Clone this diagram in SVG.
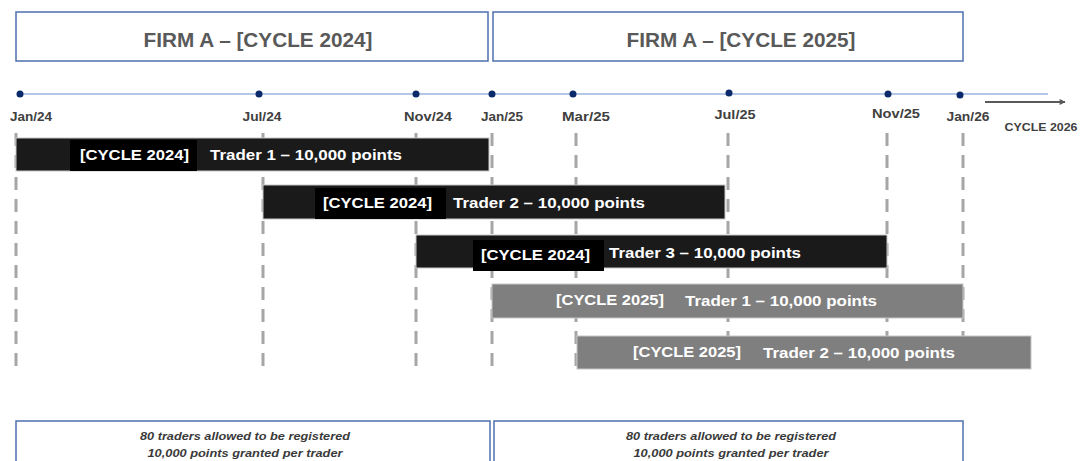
<svg xmlns="http://www.w3.org/2000/svg" width="1081" height="461" viewBox="0 0 1081 461">
<defs>
<style>
.hdr{fill:#fff;stroke:#4f6fae;stroke-width:1.5}
.ttl{font-family:"Liberation Sans",Arial,sans-serif;font-weight:bold;font-size:20px;fill:#595959;text-anchor:middle}
.dt{font-family:"Liberation Sans",Arial,sans-serif;font-weight:bold;font-size:12px;fill:#404040;text-anchor:middle}
.dot{fill:#0b2a6b}
.vl{stroke:#a6a6a6;stroke-width:3;stroke-dasharray:13 9}
.b24{fill:#1a1a1a;stroke:#c8c8c8;stroke-width:1}
.k24{fill:#000}
.b25{fill:#7f7f7f;stroke:#c8c8c8;stroke-width:1}
.bt{font-family:"Liberation Sans",Arial,sans-serif;font-weight:bold;font-size:15px;fill:#fff}
.note{font-family:"Liberation Sans",Arial,sans-serif;font-weight:bold;font-style:italic;font-size:11px;fill:#3a3a3a;text-anchor:middle}
</style>
<marker id="arr" viewBox="0 0 10 10" refX="9" refY="5" markerWidth="8" markerHeight="6" orient="auto" markerUnits="userSpaceOnUse"><path d="M0,0 L10,5 L0,10 z" fill="#595959"/></marker>
</defs>
<rect width="1081" height="461" fill="#fff"/>

<g id="header-2024"><rect class="hdr" x="16" y="12" width="472" height="49"/><text class="ttl" x="258" y="47" textLength="229" lengthAdjust="spacingAndGlyphs">FIRM A – [CYCLE 2024]</text></g>
<g id="header-2025"><rect class="hdr" x="493" y="12" width="470" height="49"/><text class="ttl" x="741" y="47" textLength="229" lengthAdjust="spacingAndGlyphs">FIRM A – [CYCLE 2025]</text></g>

<g id="connectors">
<line x1="20" y1="94" x2="1048" y2="94" stroke="#b4c7e7" stroke-width="2"/>
<line x1="985" y1="102" x2="1065" y2="102" stroke="#595959" stroke-width="2" marker-end="url(#arr)"/>
<line class="vl" x1="16" y1="133" x2="16" y2="366"/>
<line class="vl" x1="263" y1="133" x2="263" y2="366"/>
<line class="vl" x1="416" y1="133" x2="416" y2="366"/>
<line class="vl" x1="492" y1="133" x2="492" y2="366"/>
<line class="vl" x1="576" y1="133" x2="576" y2="366"/>
<line class="vl" x1="728" y1="133" x2="728" y2="366"/>
<line class="vl" x1="887" y1="133" x2="887" y2="366"/>
<line class="vl" x1="963" y1="133" x2="963" y2="366"/>
</g>

<g id="timeline-points">
<circle class="dot" cx="20" cy="94" r="3.5"/>
<circle class="dot" cx="259" cy="94" r="3.5"/>
<circle class="dot" cx="416" cy="94" r="3.5"/>
<circle class="dot" cx="492" cy="94" r="3.5"/>
<circle class="dot" cx="573" cy="94" r="3.5"/>
<circle class="dot" cx="729" cy="93" r="3.5"/>
<circle class="dot" cx="888" cy="94" r="3.5"/>
<circle class="dot" cx="960" cy="95" r="3.5"/>
</g>

<g id="dates">
<text class="dt" x="31" y="121" textLength="42" lengthAdjust="spacingAndGlyphs">Jan/24</text>
<text class="dt" x="262" y="121" textLength="39" lengthAdjust="spacingAndGlyphs">Jul/24</text>
<text class="dt" x="428" y="121" textLength="48" lengthAdjust="spacingAndGlyphs">Nov/24</text>
<text class="dt" x="502" y="121" textLength="42" lengthAdjust="spacingAndGlyphs">Jan/25</text>
<text class="dt" x="586" y="121" textLength="48" lengthAdjust="spacingAndGlyphs">Mar/25</text>
<text class="dt" x="735" y="119" textLength="41" lengthAdjust="spacingAndGlyphs">Jul/25</text>
<text class="dt" x="896" y="118" textLength="48" lengthAdjust="spacingAndGlyphs">Nov/25</text>
<text class="dt" x="968" y="121" textLength="43" lengthAdjust="spacingAndGlyphs">Jan/26</text>
<text class="dt" x="1041" y="131" style="font-size:11px" textLength="73" lengthAdjust="spacingAndGlyphs">CYCLE 2026</text>
</g>

<g id="bar-2024-trader1">
<rect class="b24" x="16" y="138" width="473" height="33"/>
<rect class="k24" x="70" y="140" width="127" height="31"/>
<text class="bt" x="80" y="160" textLength="109" lengthAdjust="spacingAndGlyphs">[CYCLE 2024]</text>
<text class="bt" x="210" y="160" textLength="192" lengthAdjust="spacingAndGlyphs">Trader 1 – 10,000 points</text>
</g>
<g id="bar-2024-trader2">
<rect class="b24" x="263" y="185" width="462" height="34"/>
<rect class="k24" x="315" y="188" width="131" height="31"/>
<text class="bt" x="323" y="208" textLength="109" lengthAdjust="spacingAndGlyphs">[CYCLE 2024]</text>
<text class="bt" x="453" y="208" textLength="192" lengthAdjust="spacingAndGlyphs">Trader 2 – 10,000 points</text>
</g>
<g id="bar-2024-trader3">
<rect class="b24" x="416" y="235" width="471" height="33"/>
<rect class="k24" x="473" y="240" width="131" height="31"/>
<text class="bt" x="481" y="260" textLength="109" lengthAdjust="spacingAndGlyphs">[CYCLE 2024]</text>
<text class="bt" x="609" y="258" textLength="192" lengthAdjust="spacingAndGlyphs">Trader 3 – 10,000 points</text>
</g>
<g id="bar-2025-trader1">
<rect class="b25" x="492" y="284" width="471" height="34"/>
<text class="bt" x="556" y="305" textLength="108" lengthAdjust="spacingAndGlyphs">[CYCLE 2025]</text>
<text class="bt" x="685" y="306" textLength="192" lengthAdjust="spacingAndGlyphs">Trader 1 – 10,000 points</text>
</g>
<g id="bar-2025-trader2">
<rect class="b25" x="577" y="336" width="454" height="33"/>
<text class="bt" x="633" y="357" textLength="108" lengthAdjust="spacingAndGlyphs">[CYCLE 2025]</text>
<text class="bt" x="763" y="358" textLength="192" lengthAdjust="spacingAndGlyphs">Trader 2 – 10,000 points</text>
</g>

<g id="note-2024">
<rect class="hdr" x="16" y="421" width="474" height="50"/>
<text class="note" x="245" y="440" textLength="210" lengthAdjust="spacingAndGlyphs">80 traders allowed to be registered</text>
<text class="note" x="245" y="457" textLength="195" lengthAdjust="spacingAndGlyphs">10,000 points granted per trader</text>
</g>
<g id="note-2025">
<rect class="hdr" x="494" y="421" width="469" height="50"/>
<text class="note" x="731" y="440" textLength="210" lengthAdjust="spacingAndGlyphs">80 traders allowed to be registered</text>
<text class="note" x="731" y="457" textLength="195" lengthAdjust="spacingAndGlyphs">10,000 points granted per trader</text>
</g>
</svg>
